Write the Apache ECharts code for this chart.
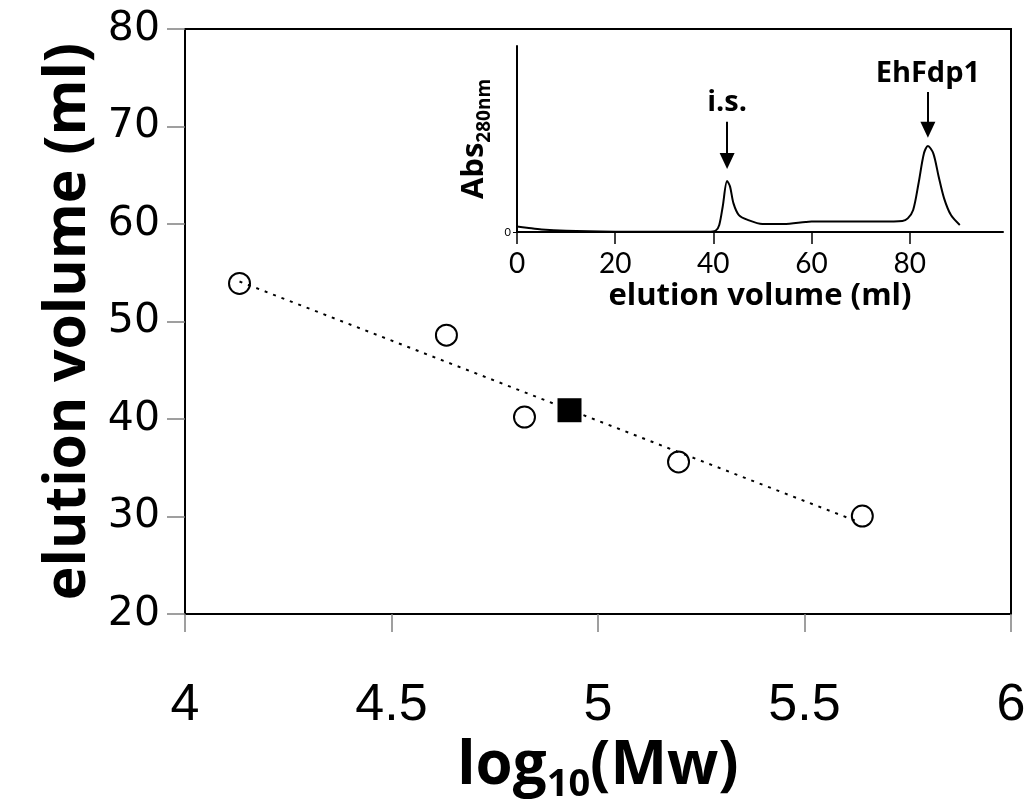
<!DOCTYPE html>
<html>
<head>
<meta charset="utf-8">
<style>
  html, body { margin: 0; padding: 0; background: #fff; }
  #chart { width: 1027px; height: 801px; }
</style>
<script src="https://cdn.jsdelivr.net/npm/echarts@6/dist/echarts.min.js"></script>
</head>
<body>
<div id="chart"></div>
<script>
// standards (open circles)
var logMw = [4.132, 4.633, 4.822, 5.195, 5.640];
var elutionVol = [53.9, 48.6, 40.2, 35.6, 30.05];
// EhFdp1 (filled square)
var sampleLogMw = [4.931];
var sampleVol = [40.9];
// dotted calibration line, read at its two ends
var trendLogMw = [4.132, 5.633];
var trendVol = [54.1, 29.4];

// inset chromatogram
var insetVolume = [0, 2, 5, 10, 20, 30, 39, 40.5, 41.2, 41.9, 42.8, 43.4, 44.1, 45.2, 47.0, 50.0, 54.3, 58.8, 60, 69, 74.1, 78.5, 79.6, 80.7, 81.8, 82.9, 83.7, 84.8, 85.9, 87.0, 88.4, 90.2];
var insetAbs = [2.9, 2.3, 1.4, 0.7, 0.2, 0.1, 0.1, 0.8, 3.8, 13.6, 27.4, 24.4, 15.4, 9.1, 6.5, 4.3, 4.3, 5.4, 5.6, 5.6, 5.6, 5.9, 7.3, 11.8, 26.2, 42.3, 46.2, 42.3, 29.7, 18.1, 9.1, 3.8];
var insetTicks = [0, 20, 40, 60, 80];
// peak arrows: [volume, arrow top, arrow tip]
var peakNames = ['i.s.', 'EhFdp1'];
var peakArrows = [[42.8, 59.3, 38.2], [83.7, 75.3, 55.0]];

function zip(a, b) {
  var out = [];
  for (var i = 0; i < a.length; i++) out.push([a[i], b[i]]);
  return out;
}

var arrowLines = [];
for (var i = 0; i < peakNames.length; i++) {
  arrowLines.push([
    { coord: [peakArrows[i][0], peakArrows[i][1]], name: peakNames[i] },
    { coord: [peakArrows[i][0], peakArrows[i][2]] }
  ]);
}

var boldFont = '"Open Sans", sans-serif';

var myChart = echarts.init(document.getElementById('chart'));
var option = {
  backgroundColor: '#fff',
  animation: false,
  grid: [
    { left: 185, right: 16, top: 29, bottom: 187, outerBoundsMode: 'none', show: true, borderColor: '#000', borderWidth: 2, backgroundColor: 'transparent' },
    { left: 517, right: 24, top: 46, bottom: 569, outerBoundsMode: 'none' }
  ],
  xAxis: [
    {
      type: 'value', gridIndex: 0, min: 4, max: 6, interval: 0.5,
      splitLine: { show: false },
      axisLine: { lineStyle: { color: '#000', width: 2 } },
      axisTick: { length: 18, lineStyle: { color: '#808080', width: 1.5 } },
      axisLabel: { margin: 66, fontSize: 52, color: '#000', fontFamily: '"Liberation Sans Narrow", "Arial Narrow", sans-serif' },
      name: '{a|log}{s|10}{a|(Mw)}',
      nameLocation: 'middle', nameGap: 113,
      nameTextStyle: {
        rich: {
          a: { fontSize: 60, fontWeight: 'bold', fontFamily: boldFont, color: '#000', lineHeight: 74 },
          s: { fontSize: 38, fontWeight: 'bold', fontFamily: boldFont, color: '#000', lineHeight: 30, verticalAlign: 'bottom' }
        }
      }
    },
    {
      type: 'value', gridIndex: 1, min: 0, max: 99,
      splitLine: { show: false },
      axisLine: { onZero: false, lineStyle: { color: '#000', width: 2 } },
      axisTick: { customValues: insetTicks, length: 12, lineStyle: { color: '#000', width: 1.5 } },
      axisLabel: { customValues: insetTicks, margin: 18, fontSize: 28, color: '#000', fontFamily: 'Lato, sans-serif' },
      name: 'elution volume (ml)',
      nameLocation: 'middle', nameGap: 49,
      nameTextStyle: { fontSize: 31, fontWeight: 'bold', fontFamily: boldFont, color: '#000' }
    }
  ],
  yAxis: [
    {
      type: 'value', gridIndex: 0, min: 20, max: 80, interval: 10,
      splitLine: { show: false },
      axisLine: { lineStyle: { color: '#000', width: 2 } },
      axisTick: { length: 18, lineStyle: { color: '#808080', width: 1.5 } },
      axisLabel: { margin: 25, fontSize: 41, color: '#000', fontFamily: '"DejaVu Sans", sans-serif' },
      name: 'elution volume (ml)',
      nameLocation: 'middle', nameGap: 88,
      nameTextStyle: { fontSize: 57, fontWeight: 'bold', fontFamily: boldFont, color: '#000' }
    },
    {
      type: 'value', gridIndex: 1, min: 0, max: 100,
      splitLine: { show: false },
      axisLine: { lineStyle: { color: '#000', width: 2 } },
      axisTick: { customValues: [0], length: 4, lineStyle: { color: '#000' } },
      axisLabel: { customValues: [0], margin: 6, fontSize: 11, color: '#000', fontFamily: 'Lato, sans-serif' },
      name: '{a|Abs}{s|280nm}',
      nameLocation: 'middle', nameGap: 23,
      nameTextStyle: {
        rich: {
          a: { fontSize: 31, fontWeight: 'bold', fontFamily: boldFont, color: '#000', lineHeight: 40 },
          s: { fontSize: 19, fontWeight: 'bold', fontFamily: boldFont, color: '#000', lineHeight: 18, verticalAlign: 'bottom' }
        }
      }
    }
  ],
  series: [
    {
      name: 'fit', type: 'line', xAxisIndex: 0, yAxisIndex: 0,
      data: zip(trendLogMw, trendVol),
      showSymbol: false, silent: true,
      lineStyle: { color: '#000', width: 2, type: [3, 6] }
    },
    {
      name: 'standards', type: 'scatter', xAxisIndex: 0, yAxisIndex: 0,
      data: zip(logMw, elutionVol),
      symbol: 'circle', symbolSize: 21,
      itemStyle: { color: 'rgba(0,0,0,0)', borderColor: '#000', borderWidth: 2, opacity: 1 }
    },
    {
      name: 'EhFdp1', type: 'scatter', xAxisIndex: 0, yAxisIndex: 0,
      data: zip(sampleLogMw, sampleVol),
      symbol: 'rect', symbolSize: 24,
      itemStyle: { color: '#000', opacity: 1 }
    },
    {
      name: 'chromatogram', type: 'line', xAxisIndex: 1, yAxisIndex: 1,
      data: zip(insetVolume, insetAbs),
      showSymbol: false, smooth: 0.3,
      lineStyle: { color: '#000', width: 2 },
      markLine: {
        silent: true,
        symbol: ['none', 'triangle'],
        symbolSize: [15, 16],
        lineStyle: { color: '#000', width: 2, type: 'solid' },
        label: {
          show: true, position: 'start', distance: 4,
          formatter: '{b}',
          fontSize: 29, fontWeight: 'bold', fontFamily: boldFont, color: '#000'
        },
        data: arrowLines
      }
    }
  ]
};
myChart.setOption(option);
</script>
</body>
</html>
